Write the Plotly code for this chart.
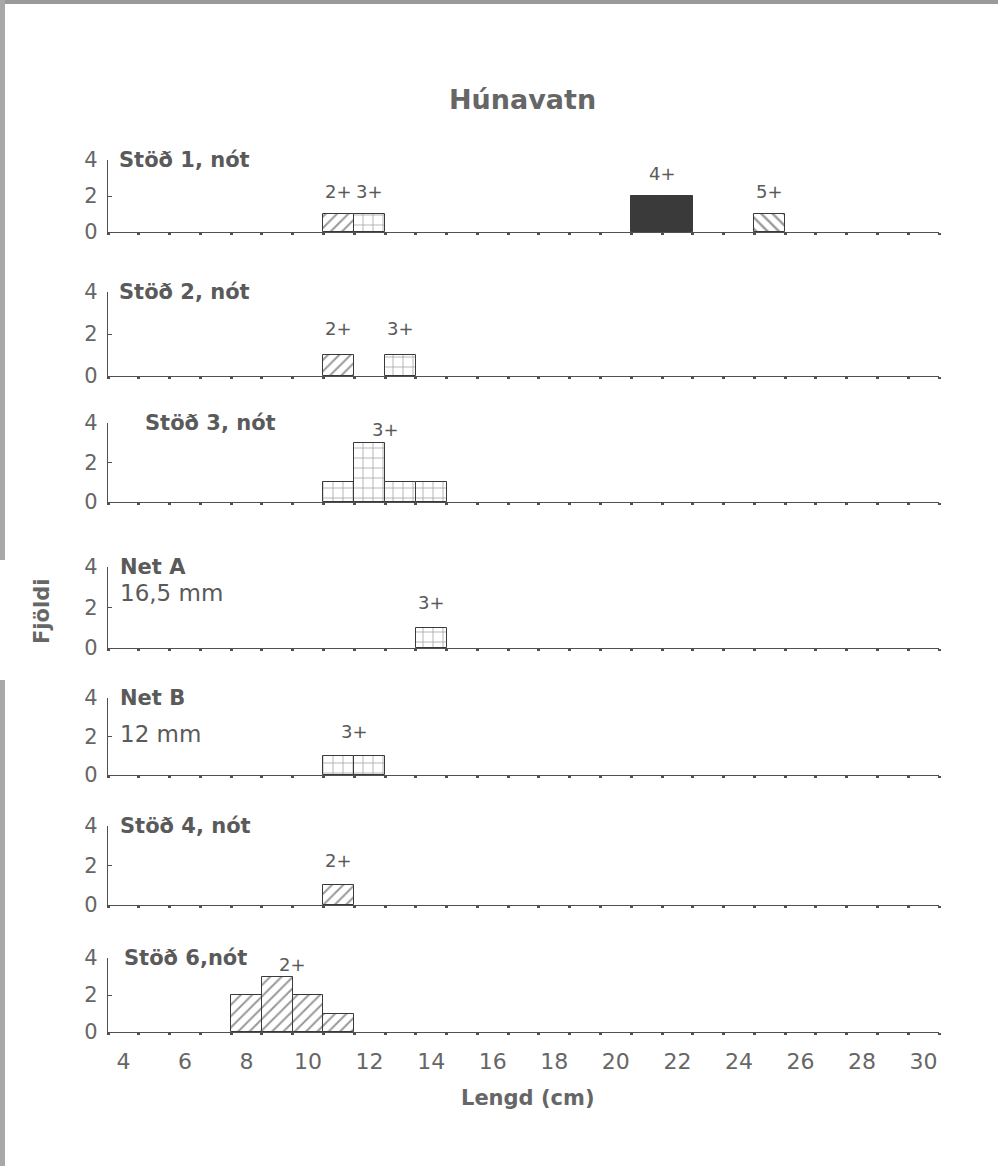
import plotly.graph_objects as go

# ---------------- data ----------------
# Length classes (cm) and counts (Fjöldi) per station, split by age group
s1_len_2 = [11]; s1_cnt_2 = [1]
s1_len_3 = [12]; s1_cnt_3 = [1]
s1_len_4 = [21, 22]; s1_cnt_4 = [2, 2]
s1_len_5 = [25]; s1_cnt_5 = [1]

s2_len_2 = [11]; s2_cnt_2 = [1]
s2_len_3 = [13]; s2_cnt_3 = [1]

s3_len_3 = [11, 12, 13, 14]; s3_cnt_3 = [1, 3, 1, 1]

netA_len_3 = [14]; netA_cnt_3 = [1]

netB_len_3 = [11, 12]; netB_cnt_3 = [1, 1]

s4_len_2 = [11]; s4_cnt_2 = [1]

s6_len_2 = [8, 9, 10, 11]; s6_cnt_2 = [2, 3, 2, 1]

panel_titles = ["Stöð 1, nót", "Stöð 2, nót", "Stöð 3, nót", "Net A", "Net B", "Stöð 4, nót", "Stöð 6,nót"]
panel_subtitles = ["", "", "", "16,5 mm", "12 mm", "", ""]
x_tick_labels = [4, 6, 8, 10, 12, 14, 16, 18, 20, 22, 24, 26, 28, 30]
y_tick_labels = [0, 2, 4]

panels = [
    [("2+", s1_len_2, s1_cnt_2), ("3+", s1_len_3, s1_cnt_3), ("4+", s1_len_4, s1_cnt_4), ("5+", s1_len_5, s1_cnt_5)],
    [("2+", s2_len_2, s2_cnt_2), ("3+", s2_len_3, s2_cnt_3)],
    [("3+", s3_len_3, s3_cnt_3)],
    [("3+", netA_len_3, netA_cnt_3)],
    [("3+", netB_len_3, netB_cnt_3)],
    [("2+", s4_len_2, s4_cnt_2)],
    [("2+", s6_len_2, s6_cnt_2)],
]

# ---------------- layout geometry (pixels) ----------------
W, H = 998, 1166
panel_px = [(160, 232), (292, 376), (423, 502), (567, 648), (698, 775), (826, 905), (958, 1032)]
title_x_px = [117, 117, 143, 118, 118, 118, 122]
sub_dy_px = [0, 0, 0, 26, 36, 0, 0]
x_left_px, x_right_px = 108, 939

def px_y(p):
    return 1 - p / H

def px_x(p):
    return p / W

GRAY = "#505050"
TXT = "#5a5a5a"
FONT = "DejaVu Sans"

styles = {
    "2+": dict(color="white", pattern=dict(shape="/", fgcolor="#333", bgcolor="white", size=8, solidity=0.25)),
    "3+": dict(color="white", pattern=dict(shape="+", fgcolor="#444", bgcolor="white", size=10, solidity=0.15)),
    "4+": dict(color="#3a3a3a"),
    "5+": dict(color="white", pattern=dict(shape="\\", fgcolor="#333", bgcolor="white", size=8, solidity=0.3)),
}

fig = go.Figure()
layout_axes = {}
annotations = []
n = len(panels)
for i, groups in enumerate(panels):
    k = i + 1
    xa = "x" if k == 1 else f"x{k}"
    ya = "y" if k == 1 else f"y{k}"
    for age, xs, ys in groups:
        fig.add_trace(go.Bar(
            x=xs, y=ys, width=1, xaxis=xa, yaxis=ya,
            marker=dict(line=dict(color="#3a3a3a", width=1), **styles[age]),
            showlegend=False, cliponaxis=False,
        ))
        # age label above the group
        annotations.append(dict(
            x=sum(xs) / len(xs), y=min(max(ys) + 1.25, 3.65), xref=xa, yref=ya,
            text=age, showarrow=False, xanchor="center", yanchor="middle",
            font=dict(family=FONT, size=18, color=TXT),
        ))
    top, base = panel_px[i]
    last = (k == n)
    layout_axes[f"xaxis{'' if k == 1 else k}"] = dict(
        domain=[px_x(x_left_px), px_x(x_right_px)],
        range=[3.5, 30.5], anchor=ya,
        showline=True, linecolor=GRAY, linewidth=1.3,
        showgrid=False, zeroline=False,
        tickmode="array", tickvals=x_tick_labels,
        ticktext=[str(v) for v in x_tick_labels],
        showticklabels=last, ticks="", ticklen=0,
        ticklabelstandoff=9, automargin=False,
        tickfont=dict(family=FONT, size=22, color="#666"),
        minor=dict(tick0=3.5, dtick=1, ticks="outside", ticklen=2, tickwidth=3, tickcolor=GRAY),
        fixedrange=True,
    )
    layout_axes[f"yaxis{'' if k == 1 else k}"] = dict(
        domain=[px_y(base), px_y(top)],
        range=[0, 4], anchor=xa,
        showline=True, linecolor=GRAY, linewidth=1.2,
        showgrid=False, zeroline=False,
        tickmode="array", tickvals=y_tick_labels,
        ticks="inside", ticklen=4, tickcolor=GRAY,
        ticklabelstandoff=5,
        tickfont=dict(family=FONT, size=21, color="#666"),
        automargin=False, fixedrange=True,
    )
    # panel title
    annotations.append(dict(
        x=px_x(title_x_px[i]), y=px_y(top), xref="paper", yref="paper",
        text=f"<b>{panel_titles[i]}</b>", showarrow=False,
        xanchor="left", yanchor="middle",
        font=dict(family=FONT, size=21, color=TXT),
    ))
    if panel_subtitles[i]:
        annotations.append(dict(
            x=px_x(title_x_px[i]), y=px_y(top + sub_dy_px[i]), xref="paper", yref="paper",
            text=panel_subtitles[i], showarrow=False,
            xanchor="left", yanchor="middle",
            font=dict(family=FONT, size=23, color=TXT),
        ))

# overall titles
annotations.append(dict(x=px_x(522), y=px_y(100), xref="paper", yref="paper",
                        text="<b>Húnavatn</b>", showarrow=False,
                        xanchor="center", yanchor="middle",
                        font=dict(family=FONT, size=27, color="#666")))
annotations.append(dict(x=px_x(42), y=px_y(612), xref="paper", yref="paper",
                        text="<b>Fjöldi</b>", showarrow=False, textangle=-90,
                        xanchor="center", yanchor="middle",
                        font=dict(family=FONT, size=21, color="#666")))
annotations.append(dict(x=px_x(527), y=px_y(1098), xref="paper", yref="paper",
                        text="<b>Lengd (cm)</b>", showarrow=False,
                        xanchor="center", yanchor="middle",
                        font=dict(family=FONT, size=21, color="#666")))

# scan edges
shapes = [
    dict(type="rect", xref="paper", yref="paper", x0=0, x1=1, y0=px_y(4), y1=1,
         fillcolor="#9a9a9a", line=dict(width=0), layer="below"),
    dict(type="rect", xref="paper", yref="paper", x0=0, x1=px_x(5), y0=px_y(560), y1=1,
         fillcolor="#a8a8a8", line=dict(width=0), layer="below"),
    dict(type="rect", xref="paper", yref="paper", x0=0, x1=px_x(5), y0=0, y1=px_y(680),
         fillcolor="#a8a8a8", line=dict(width=0), layer="below"),
]

fig.update_layout(
    width=W, height=H,
    margin=dict(l=0, r=0, t=0, b=0),
    paper_bgcolor="white", plot_bgcolor="rgba(0,0,0,0)",
    bargap=0, barmode="overlay",
    annotations=annotations, shapes=shapes,
    **layout_axes,
)

fig.write_html("out.html", config={"displayModeBar": False})
